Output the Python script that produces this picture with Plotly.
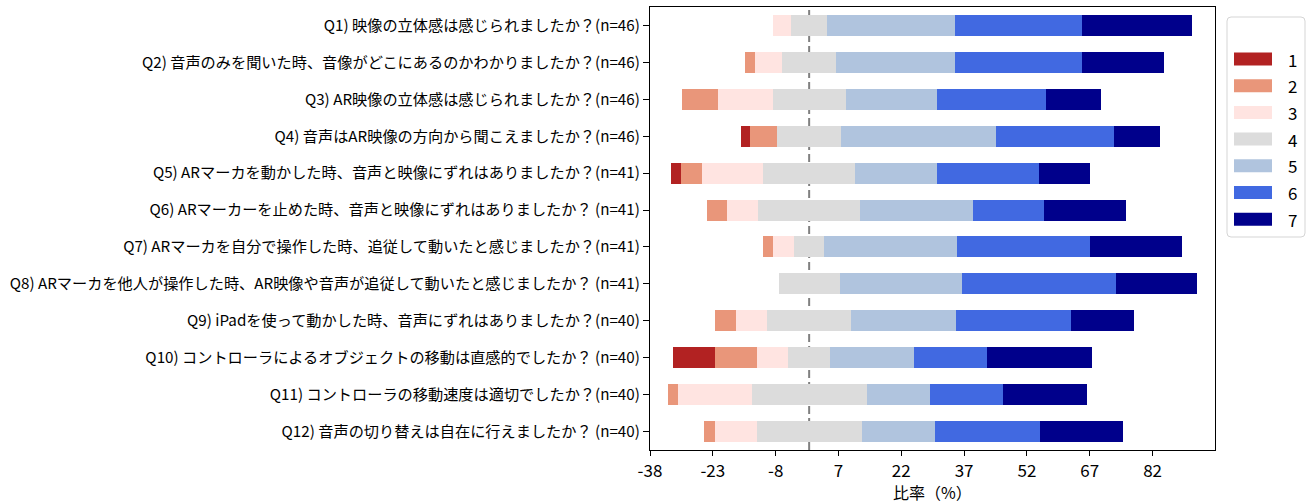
import plotly.graph_objects as go

# Survey questions (top to bottom)
questions = [
    "Q1) 映像の立体感は感じられましたか？(n=46)",
    "Q2) 音声のみを聞いた時、音像がどこにあるのかわかりましたか？(n=46)",
    "Q3) AR映像の立体感は感じられましたか？(n=46)",
    "Q4) 音声はAR映像の方向から聞こえましたか？(n=46)",
    "Q5) ARマーカを動かした時、音声と映像にずれはありましたか？(n=41)",
    "Q6) ARマーカーを止めた時、音声と映像にずれはありましたか？ (n=41)",
    "Q7) ARマーカを自分で操作した時、追従して動いたと感じましたか？(n=41)",
    "Q8) ARマーカを他人が操作した時、AR映像や音声が追従して動いたと感じましたか？ (n=41)",
    "Q9) iPadを使って動かした時、音声にずれはありましたか？(n=40)",
    "Q10) コントローラによるオブジェクトの移動は直感的でしたか？ (n=40)",
    "Q11) コントローラの移動速度は適切でしたか？(n=40)",
    "Q12) 音声の切り替えは自在に行えましたか？ (n=40)",
]

# Response share (%) for each rating level, one value per question
level_1 = [0, 0, 0, 2.17, 2.44, 0, 0, 0, 0, 10.0, 0, 0]
level_2 = [0, 2.17, 8.70, 6.52, 4.88, 4.88, 2.44, 0, 5.0, 10.0, 2.5, 2.5]
level_3 = [4.35, 6.52, 13.04, 0, 14.63, 7.32, 4.88, 0, 7.5, 7.5, 17.5, 10.0]
level_4 = [8.70, 13.04, 17.39, 15.22, 21.95, 24.39, 7.32, 14.63, 20.0, 10.0, 27.5, 25.0]
level_5 = [30.43, 28.26, 21.74, 36.96, 19.51, 26.83, 31.71, 29.27, 25.0, 20.0, 15.0, 17.5]
level_6 = [30.43, 30.43, 26.09, 28.26, 24.39, 17.07, 31.71, 36.59, 27.5, 17.5, 17.5, 25.0]
level_7 = [26.09, 19.57, 13.04, 10.87, 12.20, 19.51, 21.95, 19.51, 15.0, 25.0, 20.0, 20.0]

level_names = ["1", "2", "3", "4", "5", "6", "7"]
levels = [level_1, level_2, level_3, level_4, level_5, level_6, level_7]
colors = ["#B22222", "#E9967A", "#FFE4E1", "#DCDCDC", "#B0C4DE", "#4169E1", "#00008B"]

x_ticks = [-38, -23, -8, 7, 22, 37, 52, 67, 82]

FONT = "Noto Sans CJK JP"
ypos = list(range(len(questions)))

# Diverging layout: neutral level (4) is centred on zero
starts = [-(a + b + c + d / 2) for a, b, c, d in zip(level_1, level_2, level_3, level_4)]

fig = go.Figure()
cursor = list(starts)
for name, vals, col in zip(level_names, levels, colors):
    fig.add_trace(go.Bar(
        y=ypos, x=vals, base=list(cursor), orientation="h", name=name,
        marker=dict(color=col, line=dict(width=0)), width=0.57,
        showlegend=False,
    ))
    cursor = [c + v for c, v in zip(cursor, vals)]

# Zero reference line behind the bars
fig.add_shape(type="line", x0=0, x1=0, y0=0, y1=1, xref="x", yref="paper",
              line=dict(color="#808080", width=2, dash="8px,4px"), layer="below")

# Plot-area pixel frame, used to place the legend box
L, R, T, B = 650, 1215, 7, 450
def px_x(p):
    return (p - L) / (R - L)
def px_y(p):
    return (B - p) / (B - T)

bx0, bx1, by0, by1 = px_x(1227), px_x(1305), px_y(237), px_y(17)
rx, ry = 4 / (R - L), 4 / (B - T)
path = (f"M {bx0+rx},{by0} L {bx1-rx},{by0} Q {bx1},{by0} {bx1},{by0+ry} "
        f"L {bx1},{by1-ry} Q {bx1},{by1} {bx1-rx},{by1} L {bx0+rx},{by1} "
        f"Q {bx0},{by1} {bx0},{by1-ry} L {bx0},{by0+ry} Q {bx0},{by0} {bx0+rx},{by0} Z")
fig.add_shape(type="path", path=path, xref="paper", yref="paper",
              line=dict(color="#D5D5D5", width=1), fillcolor="white")

for i, (name, col) in enumerate(zip(level_names, colors)):
    cy = 59 + i * 26.7
    fig.add_shape(type="rect", xref="paper", yref="paper",
                  x0=px_x(1234), x1=px_x(1272), y0=px_y(cy + 6.5), y1=px_y(cy - 6.5),
                  fillcolor=col, line=dict(width=0))
    fig.add_annotation(x=px_x(1286), y=px_y(cy), xref="paper", yref="paper",
                       text=name, showarrow=False, xanchor="left", yanchor="middle",
                       font=dict(family=FONT, size=17, color="black"))

# X-axis title
fig.add_annotation(x=0.5, y=px_y(492), xref="paper", yref="paper",
                   text="比率（%）", showarrow=False, xanchor="center", yanchor="middle",
                   font=dict(family=FONT, size=16, color="black"))

fig.update_layout(
    width=1311, height=504,
    margin=dict(l=L, r=1311 - R, t=T, b=504 - B),
    paper_bgcolor="white", plot_bgcolor="white",
    barmode="overlay", bargap=0,
    font=dict(family=FONT, color="black"),
)
fig.update_xaxes(
    range=[-38, 96.9], tickvals=x_ticks, ticktext=[str(t) for t in x_ticks],
    ticks="outside", ticklen=5, tickwidth=1.2, tickcolor="black",
    showline=True, linecolor="black", linewidth=1.2, mirror=True,
    showgrid=False, zeroline=False,
    tickfont=dict(family=FONT, size=17, color="black"),
)
fig.update_yaxes(
    range=[len(questions) - 0.5, -0.5], tickvals=ypos, ticktext=questions,
    ticks="outside", ticklen=6, tickwidth=1.2, tickcolor="black",
    showline=True, linecolor="black", linewidth=1.2, mirror=True,
    showgrid=False, zeroline=False,
    tickfont=dict(family=FONT, size=15.2, color="black"),
)

fig.write_html("out.html")
